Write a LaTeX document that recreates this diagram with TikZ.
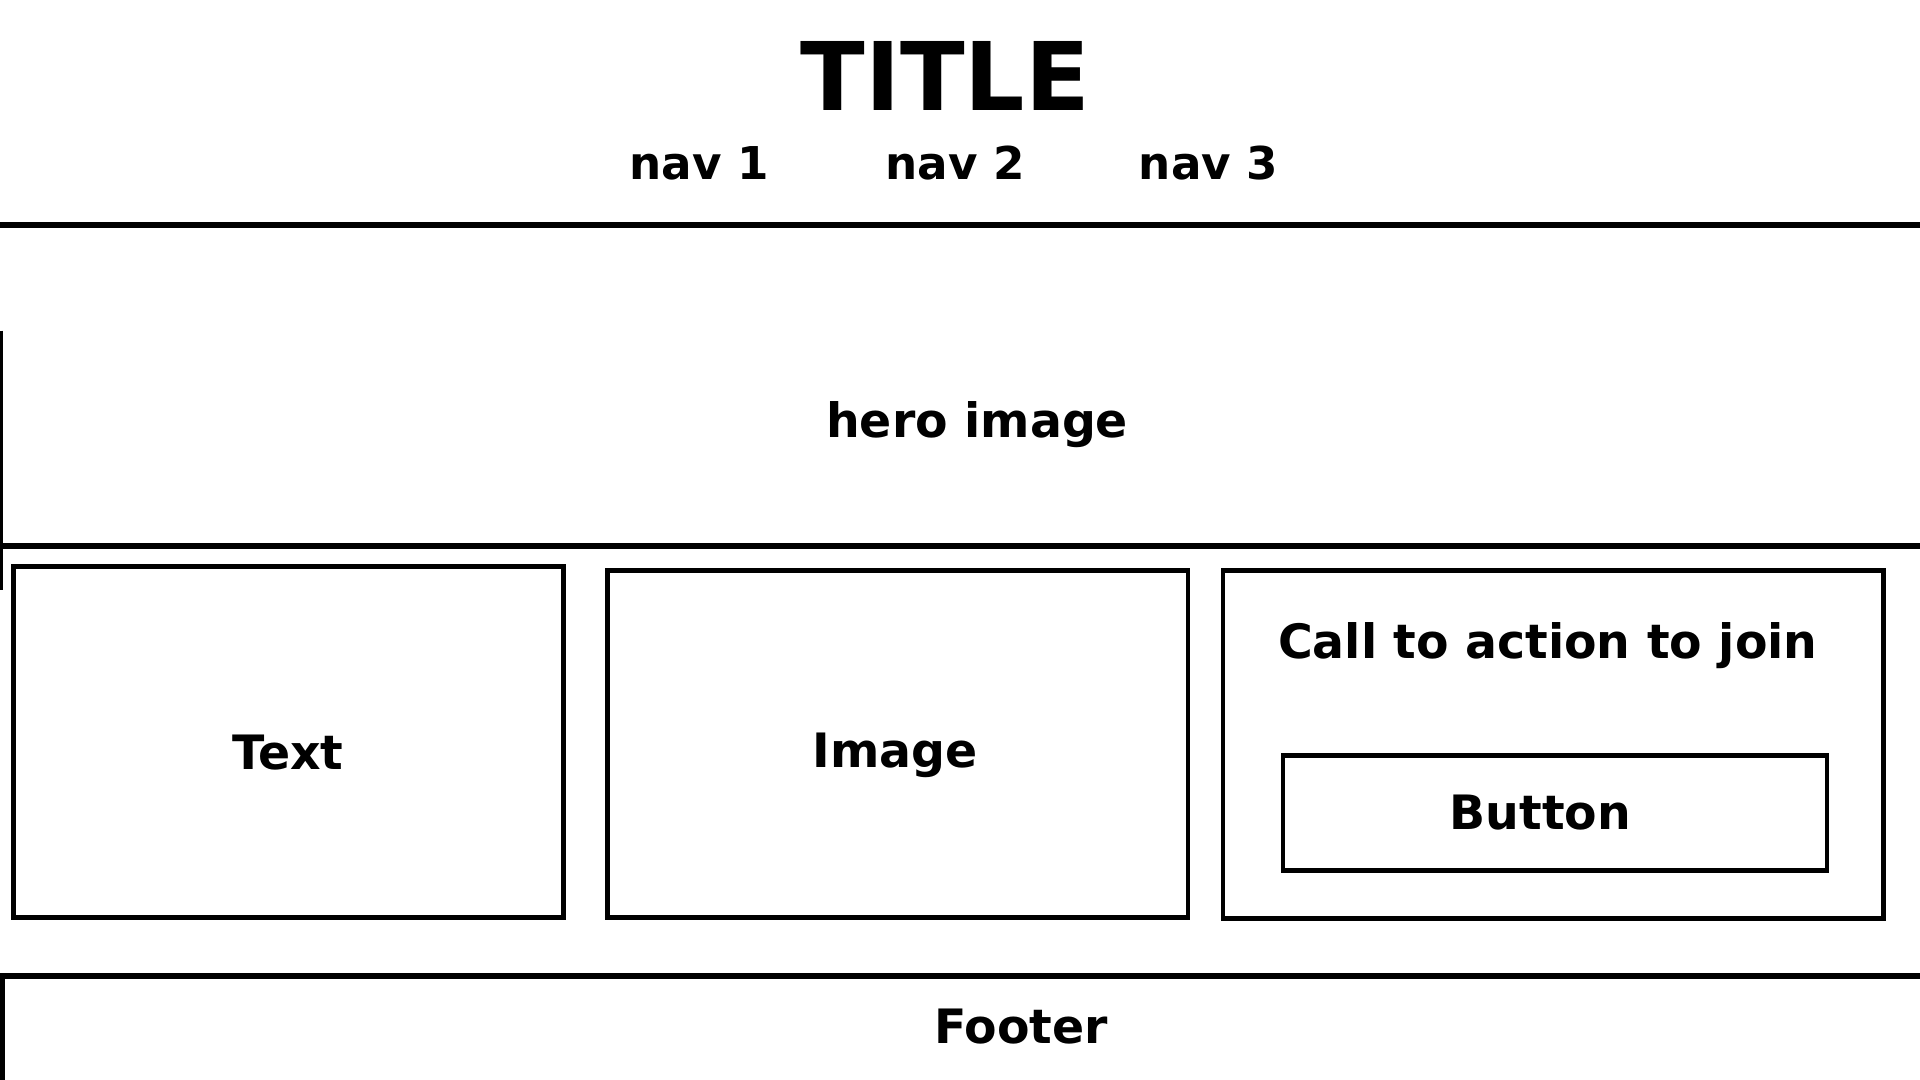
\documentclass[tikz,border=0pt]{standalone}
\usepackage{fontspec}
\setmainfont{DejaVu Sans}
\usepackage{tikz}
\usetikzlibrary{positioning}
\tikzset{wftext/.style={font=\fontsize{11}{13}\selectfont\bfseries,inner sep=0pt}}
\tikzset{navtext/.style={font=\fontsize{10.5}{12}\selectfont\bfseries,inner sep=0pt}}
\tikzset{heading/.style={font=\fontsize{22}{26}\selectfont\bfseries,inner sep=0pt}}
\tikzset{panel/.style={draw,line width=1.1pt,wftext}}
\tikzset{rule/.style={line width=1.35pt}}

\begin{document}
\begin{tikzpicture}[x=0.01cm,y=-0.01cm]
		\useasboundingbox (0,0) rectangle (1568,882);

		\node[heading](title) at (772,62){TITLE};
		\node[navtext](nav1) at (571,133){nav 1};
		\node[navtext](nav2) at (780,133){nav 2};
		\node[navtext](nav3) at (987,133){nav 3};

		\draw[rule] (0,184) -- (1568,184);

		\node[wftext](hero) at (798,347){hero image};
		\draw[line width=0.6pt] (1,270) -- (1,482);
		\draw[rule] (0,446) -- (1568,446);

		\node[panel,minimum width=4.49cm,minimum height=2.86cm](textbox) at (235.5,606){};
		\node[wftext](text) at (235,615){Text};

		\node[panel,minimum width=4.74cm,minimum height=2.83cm](imagebox) at (733,607.5){};
		\node[wftext](image) at (731,617){Image};

		\node[panel,minimum width=5.39cm,minimum height=2.84cm](ctabox) at (1268.5,608){};
		\node[wftext](cta) at (1264,527){Call to action to join};
		\node[panel,minimum width=4.44cm,minimum height=0.94cm](button) at (1270,664){};
		\node[wftext](buttontext) at (1258,664){Button};

		\draw[rule] (2,882) -- (2,797) -- (1568,797);
		\node[wftext](footer) at (834,838){Footer};
	\end{tikzpicture}
\end{document}
